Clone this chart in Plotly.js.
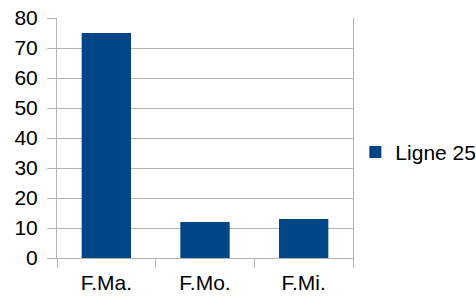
<!DOCTYPE html>
<html>
<head>
<meta charset="utf-8">
<script src="https://cdn.plot.ly/plotly-3.0.1.min.js"></script>
<style>html,body{margin:0;padding:0;background:#fff;}#chart{width:476px;height:297px;}</style>
</head>
<body>
<div id="chart"></div>
<script>
const categories = ["F.Ma.", "F.Mo.", "F.Mi."];
const values = [75, 12, 13];
const seriesName = "Ligne 25";
const yTicks = [0, 10, 20, 30, 40, 50, 60, 70, 80];

const trace = {
  type: "bar",
  x: categories,
  y: values,
  name: seriesName,
  marker: {color: "#004586"},
  showlegend: true,
  hoverinfo: "skip"
};

const layout = {
  width: 476,
  height: 297,
  margin: {l: 57, r: 123, t: 18, b: 39, pad: 0, autoexpand: false},
  paper_bgcolor: "#ffffff",
  plot_bgcolor: "#ffffff",
  font: {family: "Liberation Sans, Arial, sans-serif", size: 21, color: "#000000"},
  bargap: 0.5,
  showlegend: true,
  legend: {
    x: 1.008, xanchor: "left",
    y: 0.44, yanchor: "middle",
    font: {size: 21, color: "#000000"},
    bgcolor: "rgba(0,0,0,0)",
    itemwidth: 30
  },
  xaxis: {
    type: "category",
    tickson: "boundaries",
    ticks: "outside",
    ticklen: 9,
    tickcolor: "#b3b3b3",
    tickwidth: 1,
    showgrid: false,
    showline: true,
    linecolor: "#b3b3b3",
    linewidth: 1,
    zeroline: false,
    ticklabelstandoff: 6,
    fixedrange: true
  },
  yaxis: {
    range: [0, 80],
    tickvals: yTicks,
    ticktext: yTicks.map(String),
    ticks: "outside",
    ticklen: 9,
    tickcolor: "#b3b3b3",
    tickwidth: 1,
    showgrid: true,
    gridcolor: "#b3b3b3",
    gridwidth: 1,
    showline: true,
    mirror: true,
    linecolor: "#b3b3b3",
    linewidth: 1,
    zeroline: false,
    ticklabelstandoff: 5,
    fixedrange: true
  }
};

Plotly.newPlot("chart", [trace], layout, {staticPlot: true, displayModeBar: false});
</script>
</body>
</html>
